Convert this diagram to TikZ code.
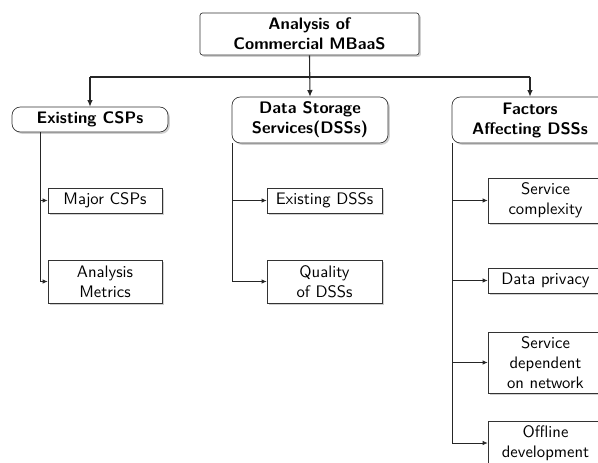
\documentclass[tikz,border=0pt]{standalone}
\usetikzlibrary{shadows,arrows.meta}
\begin{document}
\begin{tikzpicture}[x=0.6pt,y=-0.6pt,
  font=\sffamily\fontsize{10}{12}\selectfont,
  shad/.style={drop shadow={shadow xshift=1.1pt,shadow yshift=-1.1pt,fill=black!30,opacity=0.6}},
  topbox/.style={draw=black!80,fill=white,rounded corners=1.5pt,shad,align=center,inner sep=1pt,font=\sffamily\bfseries\fontsize{10}{12}\selectfont},
  lvbox/.style={draw=black!80,fill=white,rounded corners=5pt,shad,align=center,inner sep=1pt,font=\sffamily\bfseries\fontsize{10}{12}\selectfont},
  leaf/.style={draw=black!80,fill=white,shad,align=center,inner sep=1pt},
  tree/.style={draw=black!85,line width=0.45pt},
  arr/.style={tree,-{Latex[length=3pt,width=2.6pt]}},
  barr/.style={draw=black!85,line width=0.65pt,-{Latex[length=4pt,width=3.4pt]}}
]
\useasboundingbox (0,0) rectangle (598,462);
\clip (0,0) rectangle (598,462);
\fill[white] (0,0) rectangle (598,462);

\node[topbox,minimum width=219*0.6pt,minimum height=42*0.6pt] (top) at (309.5,34) {Analysis of\\Commercial MBaaS};

\node[lvbox,minimum width=156*0.6pt,minimum height=25*0.6pt] (csp) at (90,119.5) {Existing CSPs};
\node[lvbox,minimum width=156*0.6pt,minimum height=46*0.6pt] (dss) at (310,120) {Data Storage\\Services(DSSs)};
\node[lvbox,minimum width=156*0.6pt,minimum height=46*0.6pt] (fac) at (530,120) {Factors\\Affecting DSSs};

\node[leaf,minimum width=114*0.6pt,minimum height=25*0.6pt] (mcsp) at (105,200.5) {Major CSPs};
\node[leaf,minimum width=114*0.6pt,minimum height=43*0.6pt] (am) at (105,281.5) {Analysis\\Metrics};
\node[leaf,minimum width=115*0.6pt,minimum height=25*0.6pt] (edss) at (324.5,200.5) {Existing DSSs};
\node[leaf,minimum width=115*0.6pt,minimum height=43*0.6pt] (qdss) at (324.5,281.5) {Quality\\of DSSs};

\node[leaf,minimum width=115*0.6pt,minimum height=45*0.6pt] (sc) at (545.5,200.5) {Service\\complexity};
\node[leaf,minimum width=115*0.6pt,minimum height=25*0.6pt] (dp) at (545.5,280.5) {Data privacy};
\node[leaf,minimum width=115*0.6pt,minimum height=61*0.6pt] (sdn) at (545.5,362.5) {Service\\dependent\\on network};
\node[leaf,minimum width=115*0.6pt,minimum height=44*0.6pt] (od) at (545.5,443) {Offline\\development};

\coordinate (hb) at (0,77);
\coordinate (cx) at (40,0);
\coordinate (dx) at (232,0);
\coordinate (fx) at (452,0);

\draw[draw=black!85,line width=0.65pt] (csp.north |- hb) -- (fac.north |- hb);
\draw[barr] (top.south) -- (dss.north);
\draw[barr] (csp.north |- hb) -- (csp.north);
\draw[barr] (fac.north |- hb) -- (fac.north);

\draw[tree] (cx |- csp.south) -- (cx |- am.west);
\draw[arr] (cx |- mcsp.west) -- (mcsp.west);
\draw[arr] (cx |- am.west) -- (am.west);

\draw[tree] (dx |- dss.south) -- (dx |- qdss.west);
\draw[arr] (dx |- edss.west) -- (edss.west);
\draw[arr] (dx |- qdss.west) -- (qdss.west);

\draw[tree] (fx |- fac.south) -- (fx |- od.west);
\draw[arr] (fx |- sc.west) -- (sc.west);
\draw[arr] (fx |- dp.west) -- (dp.west);
\draw[arr] (fx |- sdn.west) -- (sdn.west);
\draw[arr] (fx |- od.west) -- (od.west);
\end{tikzpicture}
\end{document}
